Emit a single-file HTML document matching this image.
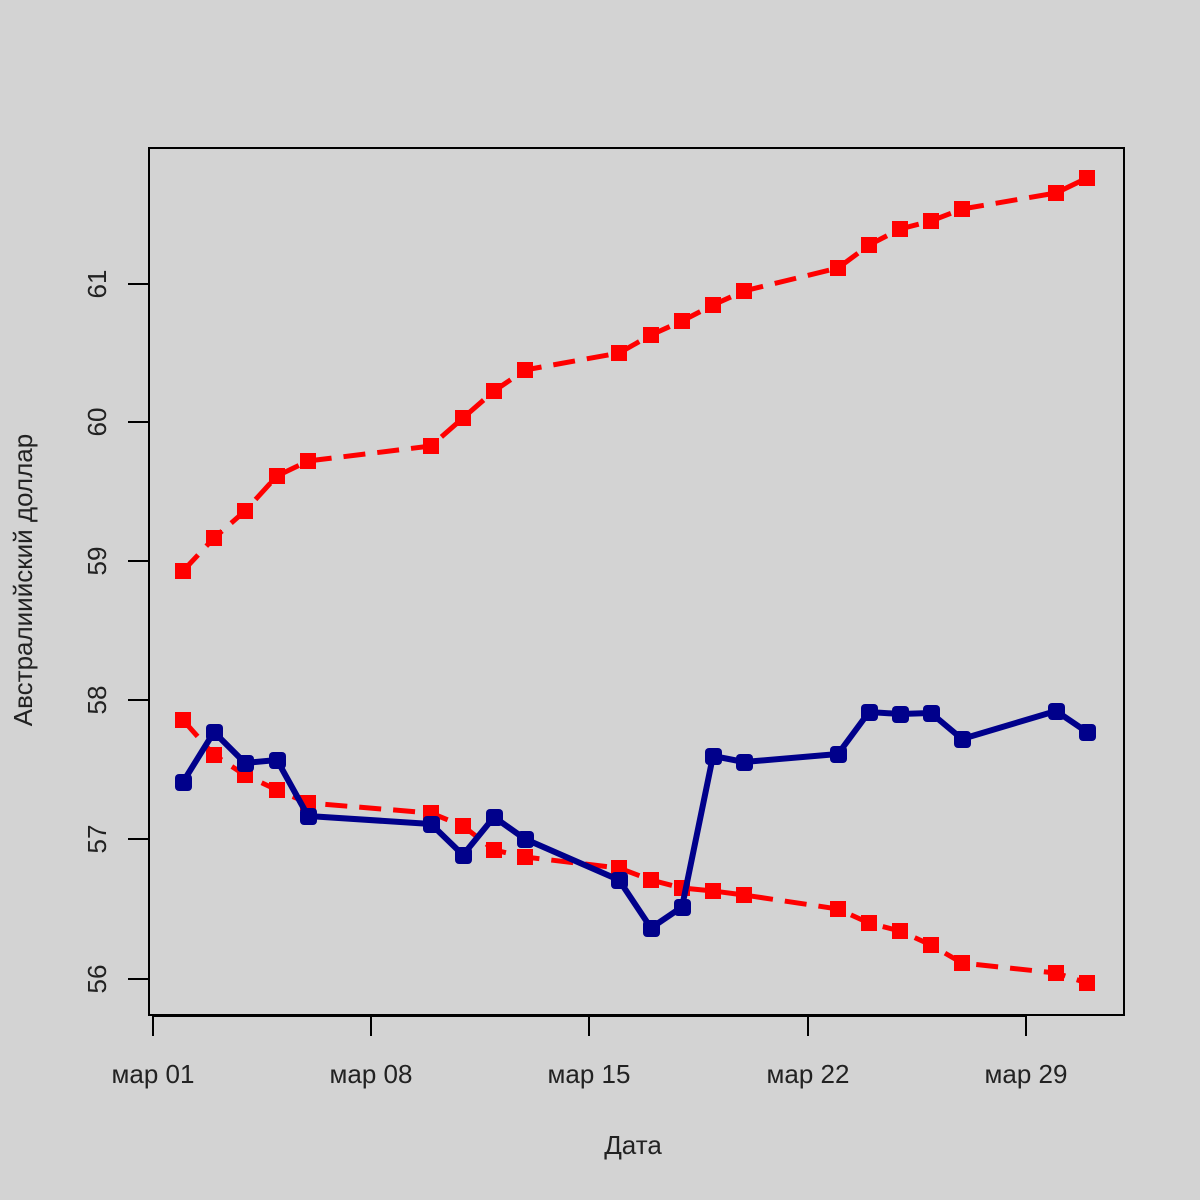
<!DOCTYPE html>
<html><head><meta charset="utf-8"><style>html,body{margin:0;padding:0;background:#d3d3d3;overflow:hidden}svg{display:block}</style></head>
<body>
<svg width="1200" height="1200" xmlns="http://www.w3.org/2000/svg" font-family="Liberation Sans, DejaVu Sans, sans-serif">
<rect width="1200" height="1200" fill="#d3d3d3"/>
<rect x="149" y="148" width="975" height="867" fill="none" stroke="#000" stroke-width="2"/>
<g stroke="#000" stroke-width="2">
<line x1="153" y1="1016" x2="1026" y2="1016"/>
<line x1="153" y1="1016" x2="153" y2="1036"/>
<line x1="371" y1="1016" x2="371" y2="1036"/>
<line x1="589" y1="1016" x2="589" y2="1036"/>
<line x1="808" y1="1016" x2="808" y2="1036"/>
<line x1="1026" y1="1016" x2="1026" y2="1036"/>
<line x1="149" y1="284" x2="149" y2="979"/>
<line x1="128" y1="979" x2="149" y2="979"/>
<line x1="128" y1="839" x2="149" y2="839"/>
<line x1="128" y1="700" x2="149" y2="700"/>
<line x1="128" y1="561" x2="149" y2="561"/>
<line x1="128" y1="422" x2="149" y2="422"/>
<line x1="128" y1="284" x2="149" y2="284"/>
</g>
<g font-size="26" fill="#222" text-anchor="middle">
<text x="153" y="1083">мар 01</text>
<text x="371" y="1083">мар 08</text>
<text x="589" y="1083">мар 15</text>
<text x="808" y="1083">мар 22</text>
<text x="1026" y="1083">мар 29</text>
<text x="633" y="1154">Дата</text>
<text transform="translate(106,979) rotate(-90)">56</text>
<text transform="translate(106,839) rotate(-90)">57</text>
<text transform="translate(106,700) rotate(-90)">58</text>
<text transform="translate(106,561) rotate(-90)">59</text>
<text transform="translate(106,422) rotate(-90)">60</text>
<text transform="translate(106,284) rotate(-90)">61</text>
<text transform="translate(32,580) rotate(-90)">Австралиийский доллар</text>
</g>
<g fill="none" stroke="#f00" stroke-width="5" stroke-dasharray="22,12">
<polyline points="183,571 214,538 245,511 277,476 308,461 431,446 463,418 494,391 525,370 619,353 651,335 682,321 713,305 744,291 838,268 869,245 900,229 931,221 962,209 1056,193 1087,178"/>
<polyline points="183,720 214,755 245,775 277,790 308,803 431,813 463,826 494,850 525,857 619,868 651,880 682,888 713,891 744,895 838,909 869,923 900,931 931,945 962,963 1056,973 1087,983"/>
</g>
<g fill="#f00">
<rect x="175" y="563" width="16" height="16"/><rect x="206" y="530" width="16" height="16"/><rect x="237" y="503" width="16" height="16"/><rect x="269" y="468" width="16" height="16"/><rect x="300" y="453" width="16" height="16"/><rect x="423" y="438" width="16" height="16"/><rect x="455" y="410" width="16" height="16"/><rect x="486" y="383" width="16" height="16"/><rect x="517" y="362" width="16" height="16"/><rect x="611" y="345" width="16" height="16"/><rect x="643" y="327" width="16" height="16"/><rect x="674" y="313" width="16" height="16"/><rect x="705" y="297" width="16" height="16"/><rect x="736" y="283" width="16" height="16"/><rect x="830" y="260" width="16" height="16"/><rect x="861" y="237" width="16" height="16"/><rect x="892" y="221" width="16" height="16"/><rect x="923" y="213" width="16" height="16"/><rect x="954" y="201" width="16" height="16"/><rect x="1048" y="185" width="16" height="16"/><rect x="1079" y="170" width="16" height="16"/>
<rect x="175" y="712" width="16" height="16"/><rect x="206" y="747" width="16" height="16"/><rect x="237" y="767" width="16" height="16"/><rect x="269" y="782" width="16" height="16"/><rect x="300" y="795" width="16" height="16"/><rect x="423" y="805" width="16" height="16"/><rect x="455" y="818" width="16" height="16"/><rect x="486" y="842" width="16" height="16"/><rect x="517" y="849" width="16" height="16"/><rect x="611" y="860" width="16" height="16"/><rect x="643" y="872" width="16" height="16"/><rect x="674" y="880" width="16" height="16"/><rect x="705" y="883" width="16" height="16"/><rect x="736" y="887" width="16" height="16"/><rect x="830" y="901" width="16" height="16"/><rect x="861" y="915" width="16" height="16"/><rect x="892" y="923" width="16" height="16"/><rect x="923" y="937" width="16" height="16"/><rect x="954" y="955" width="16" height="16"/><rect x="1048" y="965" width="16" height="16"/><rect x="1079" y="975" width="16" height="16"/>
</g>
<polyline fill="none" stroke="#00008b" stroke-width="6" stroke-linejoin="round" points="183,782 214,732 245,763 277,760 308,816 431,824 463,855 494,817 525,839 619,880 651,928 682,907 713,756 744,762 838,754 869,712 900,714 931,713 962,739 1056,711 1087,732"/>
<g fill="#00008b">
<rect x="175" y="774" width="17" height="17" rx="4"/><rect x="206" y="724" width="17" height="17" rx="4"/><rect x="237" y="755" width="17" height="17" rx="4"/><rect x="269" y="752" width="17" height="17" rx="4"/><rect x="300" y="808" width="17" height="17" rx="4"/><rect x="423" y="816" width="17" height="17" rx="4"/><rect x="455" y="847" width="17" height="17" rx="4"/><rect x="486" y="809" width="17" height="17" rx="4"/><rect x="517" y="831" width="17" height="17" rx="4"/><rect x="611" y="872" width="17" height="17" rx="4"/><rect x="643" y="920" width="17" height="17" rx="4"/><rect x="674" y="899" width="17" height="17" rx="4"/><rect x="705" y="748" width="17" height="17" rx="4"/><rect x="736" y="754" width="17" height="17" rx="4"/><rect x="830" y="746" width="17" height="17" rx="4"/><rect x="861" y="704" width="17" height="17" rx="4"/><rect x="892" y="706" width="17" height="17" rx="4"/><rect x="923" y="705" width="17" height="17" rx="4"/><rect x="954" y="731" width="17" height="17" rx="4"/><rect x="1048" y="703" width="17" height="17" rx="4"/><rect x="1079" y="724" width="17" height="17" rx="4"/>
</g>
</svg>
</body></html>
